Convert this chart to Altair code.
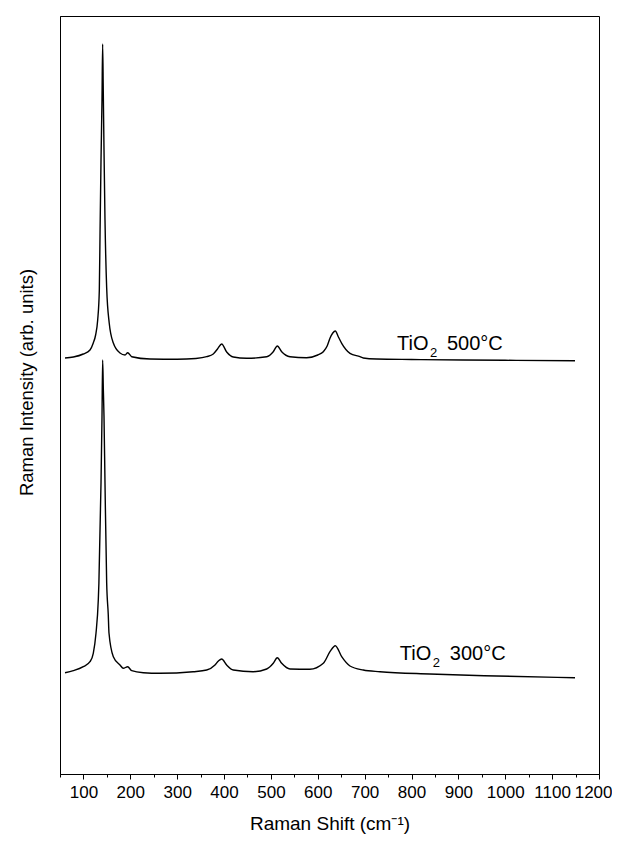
import altair as alt
import pandas as pd

# Raman shift (cm^-1) and intensity (arb. units)
shift_500 = [60.7, 78.5, 99.7, 114, 121, 126, 130.4, 133.9, 135.5, 137.5, 139.6, 141,
             142.3, 143.9, 146, 149.6, 155, 163.8, 178, 188.7, 194.4, 203, 242, 300,
             340, 363, 377, 386, 395, 405.6, 419.8, 448, 491, 505, 513.6, 523, 540.7,
             576, 600, 611.8, 620, 626, 632, 637.4, 644, 651, 668.7, 690, 697, 725.7,
             800, 910, 1000, 1148.8]
intensity_500 = [416, 417, 420, 424, 431, 439, 454, 484, 544, 614, 674, 730,
                 684, 624, 554, 486, 451, 431, 421, 419, 421.3, 417.3, 415, 414.7,
                 415.5, 417.3, 420, 425, 430, 422, 417, 415.7, 417.3, 422.3, 428, 422.3, 417.3,
                 416.3, 419, 422.3, 428, 435.7, 441, 443, 437, 430.7, 420.7, 417.3, 416, 415,
                 414.5, 414, 413.7, 413.3]

shift_300 = [60.7, 78.5, 99.7, 114, 121, 126.8, 131.7, 133, 137.5, 139.6, 141,
             142.5, 143.9, 146, 149.6, 153, 154.5, 163.8, 178, 185, 194.4, 203,
             227.8, 263, 334, 363, 380.7, 388, 395, 405.6, 419.8, 462, 491, 505,
             513.6, 523, 540.7, 583, 611.8, 626, 637.4, 651, 668.7, 697, 732.7,
             839, 981.7, 1148.8]
intensity_300 = [101.3, 103.3, 107.3, 112.3, 120.7, 140.7, 174, 191, 291, 357, 414,
                 384, 357, 291, 191, 159, 141, 117.3, 109, 105.7, 107.3, 103.3,
                 101.3, 100.7, 102.3, 104, 109, 113, 115, 109, 104, 102.3, 105, 110.7,
                 116.3, 110.7, 105, 104.7, 110.7, 122.3, 128.3, 117.3, 108, 104, 102.3,
                 100, 98, 96.3]

x_major_ticks = [100, 200, 300, 400, 500, 600, 700, 800, 900, 1000, 1100, 1200]
x_minor_ticks = [50, 150, 250, 350, 450, 550, 650, 750, 850, 950, 1050, 1150]

label_shift = [769, 775]
label_intensity = [424, 114]
label_temp = ["500°C", "300°C"]

spectra = pd.concat([
    pd.DataFrame({"shift": shift_500, "intensity": intensity_500, "sample": "500"}),
    pd.DataFrame({"shift": shift_300, "intensity": intensity_300, "sample": "300"}),
])
labels = pd.DataFrame({"shift": label_shift, "intensity": label_intensity, "temp": label_temp})
minor = pd.DataFrame({"shift": x_minor_ticks})

FONT = "Liberation Sans"
x_scale = alt.Scale(domain=[50, 1200], nice=False, zero=False)
y_scale = alt.Scale(domain=[0, 758], nice=False, zero=False)

x_enc = alt.X(
    "shift:Q",
    scale=x_scale,
    axis=alt.Axis(
        values=x_major_ticks,
        format="d",
        labelOverlap=False,
        labelFlush=1,
        labelFlushOffset=13,
        tickSize=5,
        labelPadding=5,
        labelFontSize=17,
        title="Raman Shift (cm⁻¹)",
        titleFontSize=19,
        titlePadding=14,
        grid=False,
        orient="bottom",
    ),
)
y_enc = alt.Y(
    "intensity:Q",
    scale=y_scale,
    axis=alt.Axis(
        labels=False,
        ticks=False,
        grid=False,
        title="Raman Intensity (arb. units)",
        titleFontSize=18.5,
        titlePadding=24,
        minExtent=0,
        titleY=366,
    ),
)

lines = alt.Chart(spectra).mark_line(
    color="black", strokeWidth=1.4, interpolate="monotone"
).encode(x=x_enc, y=y_enc, detail="sample:N")

minor_axis = alt.Chart(minor).mark_point(opacity=0).encode(
    x=alt.X("shift:Q", scale=x_scale,
            axis=alt.Axis(values=x_minor_ticks, labels=False, tickSize=3, domain=False,
                          title=None, grid=False, orient="bottom"))
)

tx = alt.X("shift:Q", scale=x_scale, axis=None)
ty = alt.Y("intensity:Q", scale=y_scale)

tio = alt.Chart(labels).mark_text(
    text="TiO", align="left", baseline="alphabetic", fontSize=20, font=FONT, color="black"
).encode(x=tx, y=ty)

sub2 = alt.Chart(labels).mark_text(
    text="2", align="left", baseline="alphabetic", fontSize=13, font=FONT, color="black",
    dx=33, dy=7
).encode(x=tx, y=ty)

temp = alt.Chart(labels).mark_text(
    align="left", baseline="alphabetic", fontSize=20, font=FONT, color="black", dx=50
).encode(x=tx, y=ty, text="temp:N")

chart = alt.layer(lines, minor_axis, tio, sub2, temp).resolve_axis(x="independent").properties(
    width=539,
    height=758,
    autosize=alt.AutoSizeParams(type="none"),
    padding={"left": 52, "top": 8, "right": 13, "bottom": 64},
).configure_view(
    stroke="black", strokeWidth=1
).configure_axis(
    labelFont=FONT, titleFont=FONT, labelColor="black", titleColor="black",
    domainColor="black", tickColor="black", titleFontWeight="normal",
    domainWidth=1, tickWidth=1,
)

chart.save("out.html", embed_options={"renderer": "svg", "actions": False})
